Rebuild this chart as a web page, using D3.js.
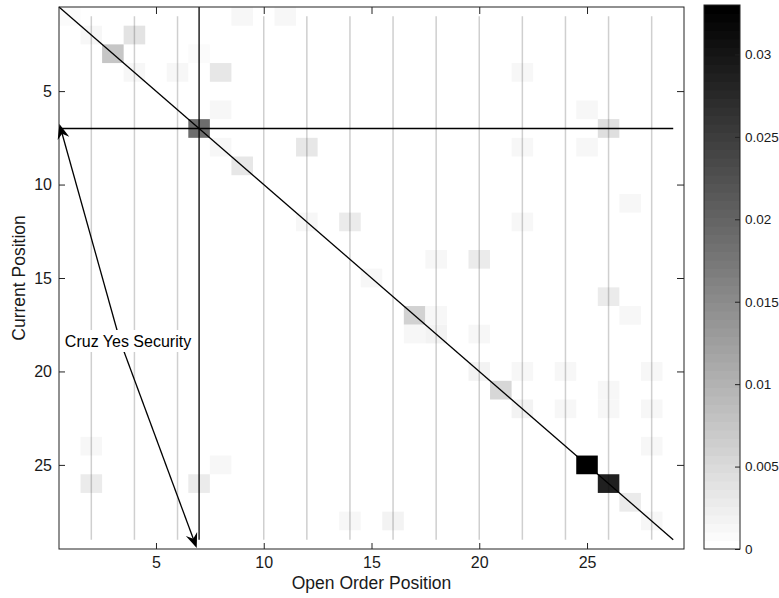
<!DOCTYPE html>
<html>
<head>
<meta charset="utf-8">
<script src="https://cdn.jsdelivr.net/npm/d3@7"></script>
<style>
  html, body { margin: 0; padding: 0; background: #fff; }
  svg { display: block; }
  text { font-family: "Liberation Sans", Arial, Helvetica, sans-serif; }
</style>
</head>
<body>
<script>
// ---------------- data ----------------
const cellX = [1, 9, 11, 2, 4, 3, 7, 4, 6, 8, 22, 8, 25, 7, 26, 8, 12, 22, 25, 9, 27, 12, 14, 22, 18, 20, 15, 26, 17, 18, 27, 17, 18, 20, 20, 22, 24, 28, 21, 26, 22, 24, 26, 28, 2, 28, 8, 25, 2, 7, 26, 27, 14, 16, 28];
const cellY = [1, 1, 1, 2, 2, 3, 3, 4, 4, 4, 4, 6, 6, 7, 7, 8, 8, 8, 8, 9, 11, 12, 12, 12, 14, 14, 15, 16, 17, 17, 17, 18, 18, 18, 20, 20, 20, 20, 21, 21, 22, 22, 22, 22, 24, 24, 25, 25, 26, 26, 26, 27, 28, 28, 28];
const cellV = [0.0010, 0.0012, 0.0012, 0.0012, 0.0040, 0.0075, 0.0010, 0.0012, 0.0012, 0.0033, 0.0012, 0.0012, 0.0012, 0.0190, 0.0045, 0.0012, 0.0033, 0.0012, 0.0015, 0.0033, 0.0012, 0.0012, 0.0026, 0.0012, 0.0012, 0.0026, 0.0012, 0.0026, 0.0060, 0.0012, 0.0012, 0.0012, 0.0020, 0.0012, 0.0020, 0.0012, 0.0012, 0.0012, 0.0053, 0.0012, 0.0020, 0.0012, 0.0012, 0.0012, 0.0012, 0.0012, 0.0012, 0.0330, 0.0026, 0.0026, 0.0285, 0.0026, 0.0012, 0.0020, 0.0012];

const xTicks = [5, 10, 15, 20, 25];
const yTicks = [5, 10, 15, 20, 25];
const gridLinesX = [2, 4, 6, 10, 12, 14, 16, 18, 20, 22, 24, 26, 28];
const colorMax = 0.033;
const cbTicks = [0, 0.005, 0.01, 0.015, 0.02, 0.025, 0.03];
const cbTickLabels = ["0", "0.005", "0.01", "0.015", "0.02", "0.025", "0.03"];
const xLabel = "Open Order Position";
const yLabel = "Current Position";
const markX = 7, markY = 7;           // highlighted position
const annText = "Cruz Yes Security";
const annTail = [3.33, 18.36];        // where the two arrows start
const annTips = [[0.52, 6.76], [6.89, 29.45]];

// ---------------- layout ----------------
const W = 779, H = 598;
const svg = d3.select("body").append("svg").attr("width", W).attr("height", H);

const x = d3.scaleLinear().domain([0.5, 29.5]).range([59, 684]);
const y = d3.scaleLinear().domain([0.5, 29.5]).range([7, 549]);

const nLevels = 64;
function grayOf(v) {
  let k = Math.floor(v / colorMax * nLevels);
  k = Math.max(0, Math.min(nLevels - 1, k));
  const g = Math.round(255 * (1 - k / (nLevels - 1)));
  return d3.rgb(g, g, g).toString();
}

const cells = cellX.map((cx, i) => ({ x: cx, y: cellY[i], v: cellV[i] }));

const plotG = svg.append("g").style("isolation", "isolate");

// cells
plotG.append("g").selectAll("rect").data(cells).join("rect")
  .attr("x", d => x(d.x - 0.5))
  .attr("y", d => y(d.y - 0.5))
  .attr("width", d => x(d.x + 0.5) - x(d.x - 0.5))
  .attr("height", d => y(d.y + 0.5) - y(d.y - 0.5))
  .attr("fill", d => grayOf(d.v));

// gray guide lines (multiplied over cells)
plotG.append("g").style("mix-blend-mode", "multiply")
  .selectAll("line").data(gridLinesX).join("line")
  .attr("x1", d => x(d)).attr("x2", d => x(d))
  .attr("y1", y(1)).attr("y2", y(29))
  .attr("stroke", "#cfcfcf").attr("stroke-width", 1.5);

// black reference lines
const lines = svg.append("g").attr("stroke", "#000").attr("stroke-width", 1.3).attr("fill", "none");
lines.append("line").attr("x1", x(0.5)).attr("y1", y(0.5)).attr("x2", x(29)).attr("y2", y(29));
lines.append("line").attr("x1", x(0.5)).attr("y1", y(markY)).attr("x2", x(29)).attr("y2", y(markY));
lines.append("line").attr("x1", x(markX)).attr("y1", y(0.5)).attr("x2", x(markX)).attr("y2", y(29));

// axes box
svg.append("rect").attr("x", x(0.5)).attr("y", y(0.5))
  .attr("width", x(29.5) - x(0.5)).attr("height", y(29.5) - y(0.5))
  .attr("fill", "none").attr("stroke", "#222").attr("stroke-width", 1);

const fs = 16;
const gx = svg.append("g").attr("transform", `translate(0,${y(29.5)})`)
  .call(d3.axisBottom(x).tickValues(xTicks).tickSize(-6).tickPadding(8));
const gxt = svg.append("g").attr("transform", `translate(0,${y(0.5)})`)
  .call(d3.axisTop(x).tickValues(xTicks).tickSize(-7).tickFormat(""));
const gy = svg.append("g").attr("transform", `translate(${x(0.5)},0)`)
  .call(d3.axisLeft(y).tickValues(yTicks).tickSize(-6).tickPadding(7));
const gyr = svg.append("g").attr("transform", `translate(${x(29.5)},0)`)
  .call(d3.axisRight(y).tickValues(yTicks).tickSize(-7).tickFormat(""));
[gx, gxt, gy, gyr].forEach(g => {
  g.select(".domain").remove();
  g.selectAll(".tick line").attr("stroke", "#222");
  g.selectAll("text").attr("font-size", fs).attr("fill", "#1a1a1a")
    .attr("font-family", "'Liberation Sans', Arial, sans-serif");
});

svg.append("text").attr("x", (x(0.5) + x(29.5)) / 2).attr("y", 589)
  .attr("text-anchor", "middle").attr("font-size", 17.5).attr("fill", "#1a1a1a").text(xLabel);
svg.append("text").attr("transform", `translate(25,${(y(0.5) + y(29.5)) / 2}) rotate(-90)`)
  .attr("text-anchor", "middle").attr("font-size", 17.5).attr("fill", "#1a1a1a").text(yLabel);

// annotation arrows
const ann = svg.append("g");
const tail = [x(annTail[0]), y(annTail[1])];
annTips.forEach(t => {
  const tip = [x(t[0]), y(t[1])];
  const ang = Math.atan2(tip[1] - tail[1], tip[0] - tail[0]);
  ann.append("line").attr("x1", tail[0]).attr("y1", tail[1])
    .attr("x2", tip[0] - 8 * Math.cos(ang)).attr("y2", tip[1] - 8 * Math.sin(ang))
    .attr("stroke", "#000").attr("stroke-width", 1.3);
  const L = 15, Wd = 6, N = 10;
  const pts = [[0, 0], [-L, -Wd], [-N, 0], [-L, Wd]].map(([px, py]) => [
    tip[0] + px * Math.cos(ang) - py * Math.sin(ang),
    tip[1] + px * Math.sin(ang) + py * Math.cos(ang)
  ]);
  ann.append("path").attr("d", d3.line()(pts) + "Z").attr("fill", "#000");
});
const tx = 128, ty = 341;
const label = ann.append("text").attr("x", tx).attr("y", ty).attr("dy", "0.35em")
  .attr("text-anchor", "middle").attr("font-size", 16).attr("fill", "#000").text(annText);
const bb = label.node().getBBox();
ann.insert("rect", "text").attr("x", bb.x - 3).attr("y", ty - 11)
  .attr("width", bb.width + 6).attr("height", 22).attr("fill", "#fff");

// colorbar
const cbX = 704, cbW = 36;
const cy = d3.scaleLinear().domain([0, colorMax]).range([549, 5]);
const levels = d3.range(nLevels);
svg.append("g").selectAll("rect").data(levels).join("rect")
  .attr("x", cbX)
  .attr("y", k => cy((k + 1) * colorMax / nLevels))
  .attr("width", cbW)
  .attr("height", k => cy(k * colorMax / nLevels) - cy((k + 1) * colorMax / nLevels) + 0.5)
  .attr("fill", k => { const g = Math.round(255 * (1 - k / (nLevels - 1))); return d3.rgb(g, g, g).toString(); });
svg.append("rect").attr("x", cbX).attr("y", cy(colorMax)).attr("width", cbW)
  .attr("height", cy(0) - cy(colorMax)).attr("fill", "none").attr("stroke", "#222");
const gc = svg.append("g").attr("transform", `translate(${cbX + cbW},0)`)
  .call(d3.axisRight(cy).tickValues(cbTicks).tickSize(-5).tickPadding(5)
    .tickFormat((d, i) => cbTickLabels[i]));
gc.select(".domain").remove();
gc.selectAll(".tick line").attr("stroke", "#222");
gc.selectAll("text").attr("font-size", 13.5).attr("fill", "#1a1a1a")
  .attr("font-family", "'Liberation Sans', Arial, sans-serif");
</script>
</body>
</html>
